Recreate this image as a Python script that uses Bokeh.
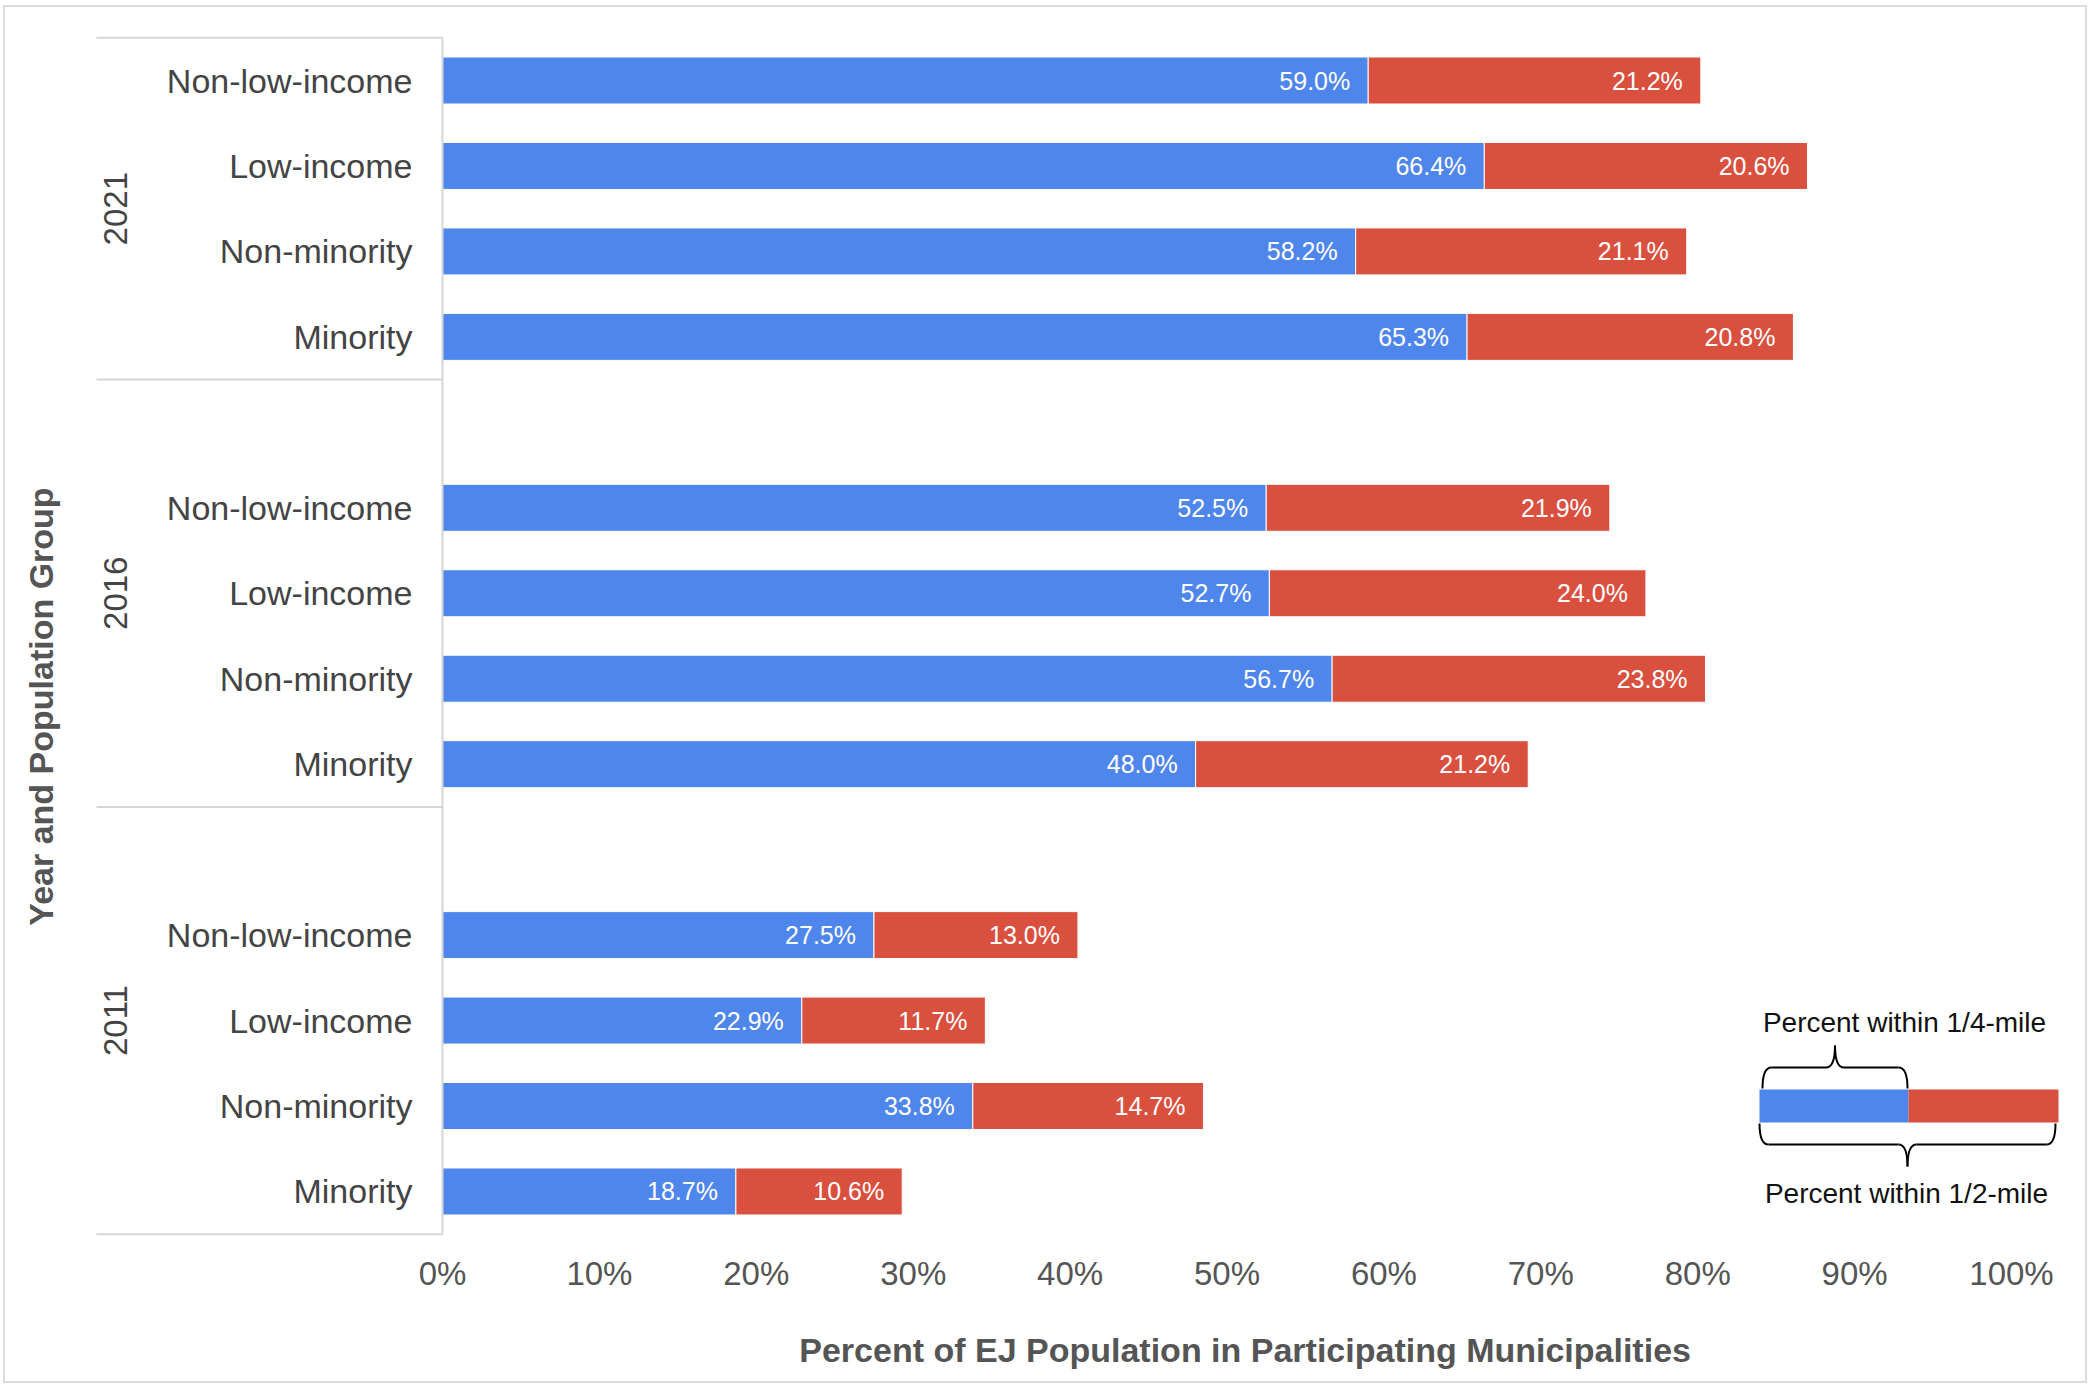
import math
from bokeh.plotting import figure
from bokeh.layouts import column
from bokeh.models import Range1d, FixedTicker, PrintfTickFormatter, ColumnDataSource
from bokeh.core.properties import value
from bokeh.embed import file_html
from bokeh.resources import INLINE

# ---------------- data ----------------
years = ["2021", "2016", "2011"]
groups = ["Non-low-income", "Low-income", "Non-minority", "Minority"]
quarter_2021 = [59.0, 66.4, 58.2, 65.3]
extra_2021 = [21.2, 20.6, 21.1, 20.8]
quarter_2016 = [52.5, 52.7, 56.7, 48.0]
extra_2016 = [21.9, 24.0, 23.8, 21.2]
quarter_2011 = [27.5, 22.9, 33.8, 18.7]
extra_2011 = [13.0, 11.7, 14.7, 10.6]
tick_values = [0, 10, 20, 30, 40, 50, 60, 70, 80, 90, 100]
x_title = "Percent of EJ Population in Participating Municipalities"
y_title = "Year and Population Group"
legend_top = "Percent within 1/4-mile"
legend_bottom = "Percent within 1/2-mile"

quarter = {"2021": quarter_2021, "2016": quarter_2016, "2011": quarter_2011}
extra = {"2021": extra_2021, "2016": extra_2016, "2011": extra_2011}

# ---------------- layout constants (page pixels) ----------------
FONT = "Liberation Sans"
PX, PY = 5, 7                 # page position of the layout's top-left corner
W = 2080
SPLIT = 1310                  # page y where the title strip begins
BOTTOM = 1381                 # page y of the bottom of the chart
H1 = SPLIT - PY
H2 = BOTTOM - SPLIT
X0_PX, X100_PX = 442, 2011    # page x of 0% and 100%
PPU = (X100_PX - X0_PX) / 100.0
SLOT0_PX, SLOT_PX = 80.0, 85.46
FRAME_L, FRAME_R, FRAME_T, FRAME_B = PX, 2076, PY, 1237
XTITLE_CX, XTITLE_CY = 1250, 1349

BLUE = "#4F86EC"
RED = "#D9503F"
SEP = "#D6D6D6"


def dx(px):
    return (px - X0_PX) / PPU


def dy(px):
    return (px - SLOT0_PX) / SLOT_PX


# ---------------- slots ----------------
rows_y, rows_cat, rows_q, rows_e = [], [], [], []
group_bounds, group_centers = [], []
slot = 0
for g, yr in enumerate(years):
    start = slot - 0.5
    if g > 0:
        slot += 1  # blank category at the top of the group
    for k, cat in enumerate(groups):
        rows_y.append(slot)
        rows_cat.append(cat)
        rows_q.append(quarter[yr][k])
        rows_e.append(extra[yr][k])
        slot += 1
    end = slot - 0.5
    group_bounds.append((start, end))
    group_centers.append((start + end) / 2.0)

totals = [a + b for a, b in zip(rows_q, rows_e)]
src = ColumnDataSource(dict(
    y=rows_y, cat=rows_cat, q=rows_q, tot=totals,
    qlab=["%.1f%%" % v for v in rows_q],
    elab=["%.1f%%" % v for v in rows_e],
))

p = figure(
    width=W, height=H1,
    x_range=Range1d(dx(FRAME_L), dx(FRAME_R)),
    y_range=Range1d(dy(FRAME_B), dy(FRAME_T)),
    output_backend="svg", toolbar_location=None,
    y_axis_location=None,
    min_border=0,
    min_border_left=FRAME_L - PX,
    min_border_top=FRAME_T - PY,
    min_border_right=W - (FRAME_R - PX),
    min_border_bottom=H1 - (FRAME_B - PY),
)
p.outline_line_color = None
p.grid.visible = False
p.background_fill_color = "white"
p.border_fill_color = "white"

# x axis
ax = p.xaxis[0]
ax.ticker = FixedTicker(ticks=tick_values)
ax.formatter = PrintfTickFormatter(format="%d%%")
ax.axis_line_color = None
ax.major_tick_line_color = None
ax.minor_tick_line_color = None
ax.major_tick_out = 0
ax.major_tick_in = 0
ax.major_label_standoff = 17
ax.major_label_text_font = FONT
ax.major_label_text_font_size = "33px"
ax.major_label_text_color = "#555555"

# bars
BAR_H = 47.0 / SLOT_PX
p.hbar(y="y", left=0, right="q", height=BAR_H, source=src,
       fill_color=BLUE, line_color="white", line_width=1)
p.hbar(y="y", left="q", right="tot", height=BAR_H, source=src,
       fill_color=RED, line_color="white", line_width=1)

# bar value labels
p.text(x="q", y="y", text="qlab", source=src, x_offset=-18,
       text_align="right", text_baseline="middle", text_color="white",
       text_font=value(FONT), text_font_size="25px")
p.text(x="tot", y="y", text="elab", source=src, x_offset=-18,
       text_align="right", text_baseline="middle", text_color="white",
       text_font=value(FONT), text_font_size="25px")

# category labels
p.text(x=0, y="y", text="cat", source=src, x_offset=-30,
       text_align="right", text_baseline="middle", text_color="#444444",
       text_font=value(FONT), text_font_size="34px")

# year labels
p.text(x=[dx(115)] * len(years), y=group_centers, text=years, angle=math.pi / 2,
       text_align="center", text_baseline="middle", text_color="#444444",
       text_font=value(FONT), text_font_size="33px")

# separators
sep_y = [group_bounds[0][0]] + [b[1] for b in group_bounds]
p.segment(x0=[dx(96)] * len(sep_y), x1=[0] * len(sep_y), y0=sep_y, y1=sep_y,
          line_color=SEP, line_width=2)
p.segment(x0=[0], x1=[0], y0=[group_bounds[0][0]], y1=[group_bounds[-1][1]],
          line_color=SEP, line_width=2)

# y title
p.text(x=[dx(40)], y=[dy(706)], text=[y_title], angle=math.pi / 2,
       text_align="center", text_baseline="middle", text_color="#555555",
       text_font=value(FONT), text_font_size="34px", text_font_style="bold")

# ---------------- legend graphic ----------------
ly = rows_y[-2]  # legend bar sits on the 2011 Non-minority row
lh = 33.0 / SLOT_PX
lx0, lx1, lx2 = dx(1759), dx(1908), dx(2058)
p.quad(left=[lx0], right=[lx1], bottom=[ly - lh / 2], top=[ly + lh / 2],
       fill_color=BLUE, line_color=None)
p.quad(left=[lx1], right=[lx2], bottom=[ly - lh / 2], top=[ly + lh / 2],
       fill_color=RED, line_color=None)


def brace(xl, xr, y_line, y_tip, y_spike, rx):
    xm = (xl + xr) / 2.0
    qx0 = [xl, xm - rx, xm, xr - rx]
    qy0 = [y_tip, y_line, y_spike, y_line]
    qx1 = [xl + rx, xm, xm + rx, xr]
    qy1 = [y_line, y_spike, y_line, y_tip]
    cx = [xl, xm, xm, xr]
    cy = [y_line, y_line, y_line, y_line]
    p.quadratic(x0=qx0, y0=qy0, x1=qx1, y1=qy1, cx=cx, cy=cy,
                line_color="black", line_width=2)
    p.segment(x0=[xl + rx, xm + rx], x1=[xm - rx, xr - rx],
              y0=[y_line, y_line], y1=[y_line, y_line],
              line_color="black", line_width=2)


rx = 9.0 / PPU
brace(dx(1762), dx(1907), dy(1067), dy(1088), dy(1045), rx)
brace(dx(1759), dx(2055), dy(1144), dy(1123), dy(1166), rx)

p.text(x=[dx(1904)], y=[dy(1022)], text=[legend_top], text_align="center",
       text_baseline="middle", text_color="#111111",
       text_font=value(FONT), text_font_size="28px")
p.text(x=[dx(1906)], y=[dy(1193)], text=[legend_bottom], text_align="center",
       text_baseline="middle", text_color="#111111",
       text_font=value(FONT), text_font_size="28px")

# ---------------- x-axis title strip ----------------
p2 = figure(
    width=W, height=H2,
    x_range=Range1d(PX, PX + W), y_range=Range1d(BOTTOM, SPLIT),
    output_backend="svg", toolbar_location=None,
    x_axis_location=None, y_axis_location=None, min_border=0,
)
p2.outline_line_color = None
p2.grid.visible = False
p2.background_fill_color = "white"
p2.border_fill_color = "white"
p2.text(x=[XTITLE_CX], y=[XTITLE_CY], text=[x_title],
        text_align="center", text_baseline="middle", text_color="#555555",
        text_font=value(FONT), text_font_size="34px", text_font_style="bold")

layout = column(p, p2, spacing=0)
layout.styles = {"margin-left": "%dpx" % PX, "margin-top": "%dpx" % PY,
                 "outline": "2px solid #DCDCDC"}

open("out.html", "w").write(file_html(layout, INLINE))
